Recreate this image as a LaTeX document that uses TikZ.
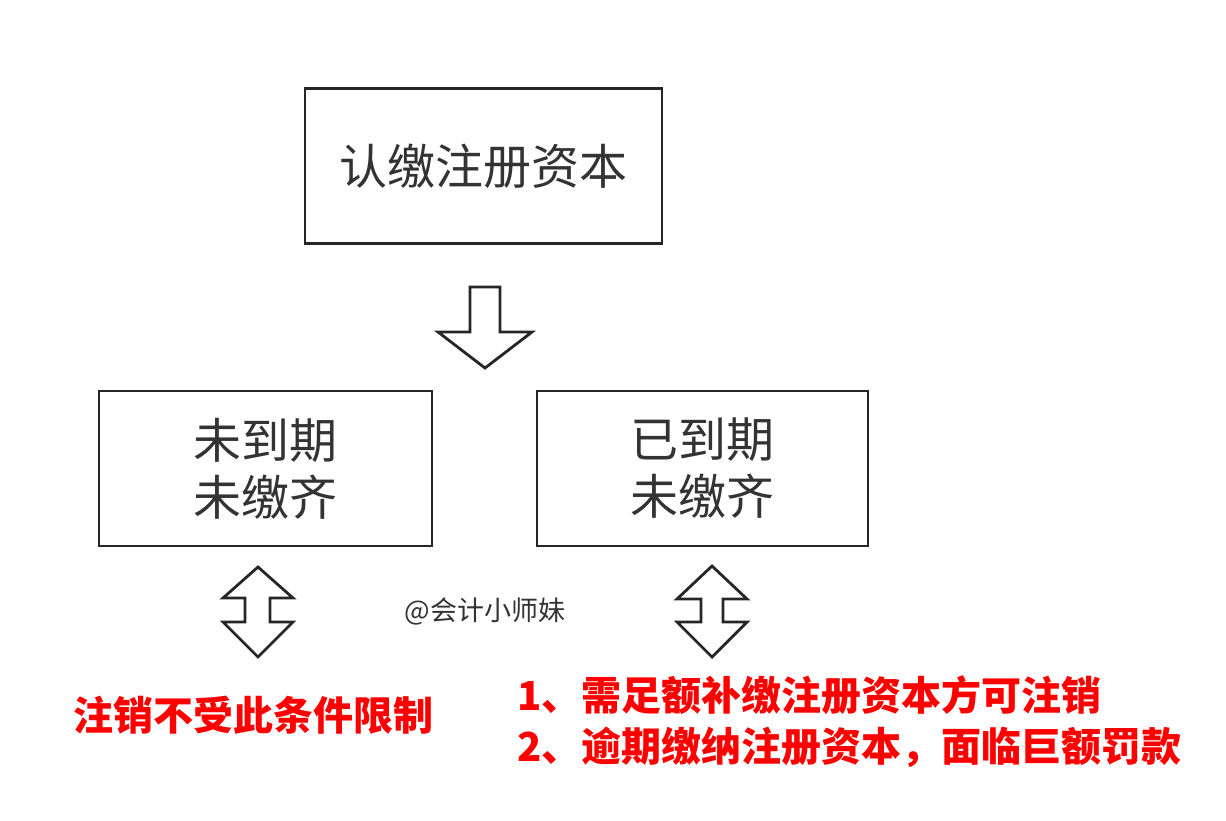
\documentclass[tikz,border=0pt]{standalone}
\usepackage{fontspec}
\setmainfont{Noto Sans CJK SC}
\usetikzlibrary{positioning}

\begin{document}
\begin{tikzpicture}[
    x=0.5pt, y=-0.5pt,
    box/.style={rectangle, draw=black!85, line width=1.3pt, fill=white, text=black!80, font=\fontsize{24}{28.5}\selectfont, align=center, minimum height=77.5pt},
    blockarrow/.style={draw=black!85, line width=1.4pt, line join=miter, fill=white},
    note/.style={text=red, font=\bfseries\fontsize{20}{25.5}\selectfont, inner sep=0pt}
]
\useasboundingbox (0,0) rectangle (1226,820);

\node[box, minimum width=178.5pt] (capital) at (483.5,166) {认缴注册资本};
\node[box, minimum width=166.5pt] (notdue) at (265.5,468.5) {未到期\\未缴齐};
\node[box, minimum width=165.5pt] (due) at (702.5,468.5) {已到期\\未缴齐};

% block arrows
\draw[blockarrow] (470,287) -- (500,287) -- (500,332) -- (532,332) -- (485,368) -- (438,332) -- (470,332) -- cycle;
\draw[blockarrow] (258,567) -- (293,598) -- (270,598) -- (270,622) -- (293,622) -- (258,657) -- (223,622) -- (245,622) -- (245,598) -- (223,598) -- cycle;
\draw[blockarrow] (712,566) -- (747,599) -- (723,599) -- (723,622) -- (747,622) -- (712,657) -- (677,622) -- (701,622) -- (701,599) -- (677,599) -- cycle;

\node[text=black!80, font=\fontsize{13.5}{16}\selectfont] (mark) at (485,611) {@会计小师妹};

% notes
\node[note] (freenote) at (253,715) {注销不受此条件限制};
\node[note, anchor=west, align=left] (duenote) at (517,722) {1、需足额补缴注册资本方可注销\\2、逾期缴纳注册资本，面临巨额罚款};

\end{tikzpicture}
\end{document}
